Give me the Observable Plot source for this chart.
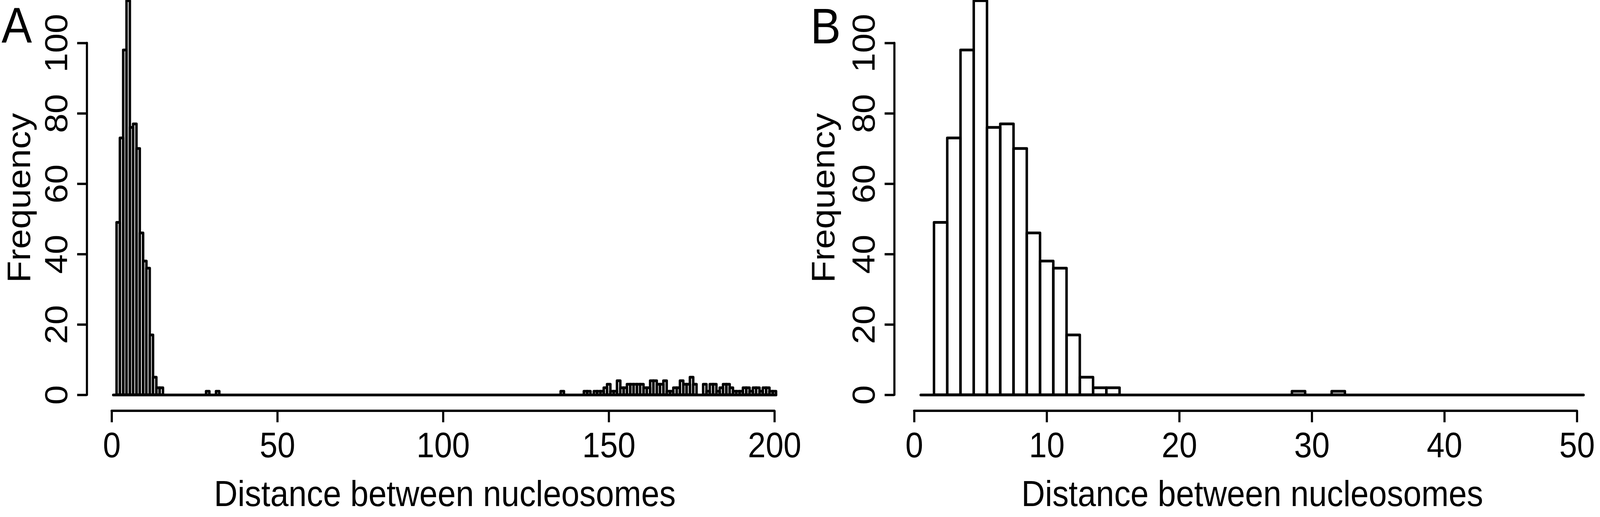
<!DOCTYPE html>
<html>
<head>
<meta charset="utf-8">
<script src="https://cdn.jsdelivr.net/npm/d3@7"></script>
<script src="https://cdn.jsdelivr.net/npm/@observablehq/plot@0.6"></script>
<style>
html, body { margin: 0; padding: 0; background: #fff; overflow: hidden; }
#wrap { display: flex; width: 4500px; height: 1324px; transform-origin: 0 0; }
#wrap svg { flex: none; }
</style>
</head>
<body>
<div id="wrap"></div>
<script>
// Histogram counts, bins of width 1 centred on integer distances
const coreDistances = [2, 3, 4, 5, 6, 7, 8, 9, 10, 11, 12, 13, 14, 15, 29, 32];
const coreCounts    = [49, 73, 98, 112, 76, 77, 70, 46, 38, 36, 17, 5, 2, 2, 1, 1];
const tailDistances = [136, 143, 144, 146, 147, 148, 149, 150, 151, 152,
                       153, 154, 155, 156, 157, 158, 159, 160, 161, 162,
                       163, 164, 165, 166, 167, 168, 169, 170, 171, 172,
                       173, 174, 175, 176, 179, 180, 181, 182, 183, 184,
                       185, 186, 187, 188, 189, 190, 191, 192, 193, 194,
                       195, 196, 197, 198, 199, 200];
const tailCounts    = [1, 1, 1, 1, 1, 1, 2, 3, 1, 1,
                       4, 2, 2, 3, 3, 3, 3, 3, 2, 2,
                       4, 4, 3, 3, 4, 1, 1, 2, 2, 4,
                       3, 3, 5, 3, 3, 1, 3, 3, 1, 2,
                       3, 3, 2, 1, 1, 1, 2, 2, 1, 2,
                       2, 1, 2, 2, 1, 1];
const binWidth = 1;
const breaksA = [0.5, 200.5];
const breaksB = [0.5, 50.5];
const xTicksA = [0, 50, 100, 150, 200];
const xTicksB = [0, 10, 20, 30, 40, 50];
const yTicks  = [0, 20, 40, 60, 80, 100];
const panelLetters = ["A", "B"];
const xLabel = "Distance between nucleosomes";
const yLabel = "Frequency";

const rows = [
  ...coreDistances.map((d, i) => ({dist: d, count: coreCounts[i]})),
  ...tailDistances.map((d, i) => ({dist: d, count: tailCounts[i]}))
];
const maxCount = d3.max(rows, d => d.count);

const font = "'Liberation Sans', Arial, Helvetica, sans-serif";

function panel({letter, breaks, xTicks, marginLeft, marginRight, letterX, letterBaseline, ylabOffset}) {
  const data = rows.filter(d => d.dist >= breaks[0] && d.dist <= breaks[1]);
  const ext = 0.04 * (breaks[1] - breaks[0]);
  const xDomain = [breaks[0] - ext, xTicks[xTicks.length - 1]];
  const yExt = 0.04 * maxCount;
  const yDomain = [-yExt, maxCount + 0.2];
  const xMid = (breaks[0] + breaks[1]) / 2;
  const yMid = maxCount / 2;
  return Plot.plot({
    width: 2250,
    height: 1324,
    marginLeft,
    marginRight,
    marginTop: 0,
    marginBottom: 272.6,
    x: {domain: xDomain},
    y: {domain: yDomain},
    style: {fontFamily: font, background: "white", color: "black", overflow: "visible", maxWidth: "none"},
    marks: [
      // baseline formed by empty bins
      Plot.ruleY([0], {x1: breaks[0], x2: breaks[1], stroke: "black", strokeWidth: 7, strokeLinecap: "round"}),
      Plot.rectY(data, {
        x1: d => d.dist - binWidth / 2,
        x2: d => d.dist + binWidth / 2,
        y1: 0,
        y2: "count",
        fill: "none",
        stroke: "black",
        strokeWidth: 7,
        strokeLinejoin: "round"
      }),
      // x axis
      Plot.ruleY([yDomain[0]], {x1: xTicks[0], x2: xTicks[xTicks.length - 1], stroke: "black", strokeWidth: 6, strokeLinecap: "round"}),
      Plot.axisX({ticks: xTicks, tickSize: 30, tickPadding: 25, fontSize: 90, strokeWidth: 6, label: null, tickFormat: d => String(d)}),
      // y axis
      Plot.ruleX([xDomain[0]], {y1: yTicks[0], y2: yTicks[yTicks.length - 1], stroke: "black", strokeWidth: 6, strokeLinecap: "round"}),
      Plot.axisY({ticks: yTicks, tickSize: 27, tickRotate: -90, tickPadding: 29, fontSize: 90, strokeWidth: 6, label: null, tickFormat: d => String(d)}),
      // axis titles
      Plot.text([xLabel], {x: xMid, y: yDomain[0], dy: 243.6, text: d => d, lineAnchor: "bottom", textAnchor: "middle", fontSize: 92, fill: "black"}),
      Plot.text([yLabel], {x: xDomain[0], y: yMid, dx: -ylabOffset, text: d => d, rotate: -90, lineAnchor: "bottom", textAnchor: "middle", fontSize: 92, fill: "black"}),
      // panel letter
      Plot.text([letter], {frameAnchor: "top-left", dx: letterX - marginLeft, dy: letterBaseline, text: d => d, lineAnchor: "bottom", textAnchor: "start", fontSize: 128, fill: "black"})
    ]
  });
}

const wrap = document.getElementById("wrap");
wrap.append(panel({letter: panelLetters[0], breaks: breaksA, xTicks: xTicksA, marginLeft: 244, marginRight: 72, letterX: 4, letterBaseline: 108, ylabOffset: 160}));
wrap.append(panel({letter: panelLetters[1], breaks: breaksB, xTicks: xTicksB, marginLeft: 265, marginRight: 65, letterX: 29, letterBaseline: 110, ylabOffset: 169}));
// the design is 4500 px wide; fit it to the actual viewport width
const fit = Math.min(1, window.innerWidth / 4500);
wrap.style.transform = `scaleX(${fit})`;
</script>
</body>
</html>
